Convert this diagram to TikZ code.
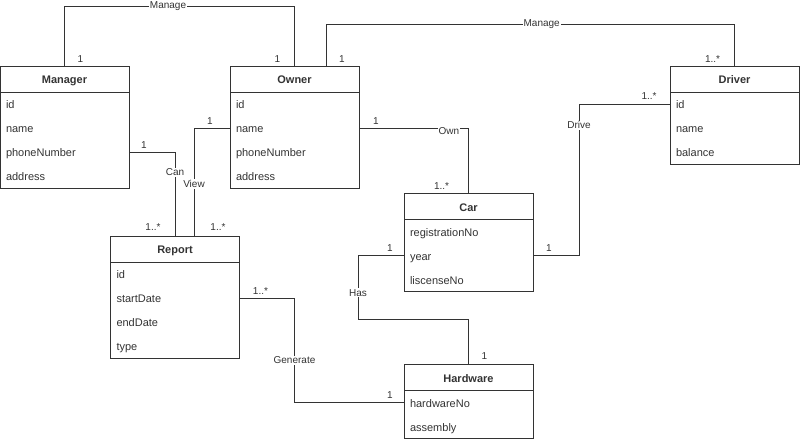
\documentclass[tikz,border=0pt]{standalone}
\usepackage{fontspec}
\setmainfont{Liberation Sans}
\usetikzlibrary{calc, positioning}
\definecolor{umlline}{HTML}{333333}

\begin{document}
\begin{tikzpicture}[x=1pt, y=-1pt, node distance=0pt, color=umlline,
  classhead/.style={draw=umlline, line width=0.8pt, outer sep=0pt, minimum width=129pt, minimum height=26pt, inner sep=0pt, font=\fontsize{11}{13}\selectfont\bfseries, text height=10.5pt, text depth=1.5pt},
  attr/.style={minimum width=129pt, text width=117pt, inner xsep=6pt, inner ysep=0pt, outer sep=0pt, minimum height=24pt, align=left, font=\fontsize{11}{13}\selectfont, text height=10.5pt, text depth=1.5pt},
  link/.style={draw=umlline, line width=0.8pt},
  lbl/.style={fill=white, inner sep=1pt, font=\fontsize{10}{12}\selectfont},
  mult/.style={inner sep=0pt, font=\fontsize{10}{12}\selectfont}]

		\useasboundingbox (0,0) rectangle (800,440);

		% class headers %
		\node[classhead] (manager) at (64.5,79) {Manager};
		\node[classhead] (owner) at (294.5,79) {Owner};
		\node[classhead] (driver) at (734.5,79) {Driver};
		\node[classhead] (car) at (468.5,206.5) {Car};
		\node[classhead] (report) at (175,249) {Report};
		\node[classhead] (hardware) at (468.5,377.5) {Hardware};

		% attributes %
		\node[attr, below=of manager] (manager-id) {id};
		\node[attr, below=of manager-id] (manager-name) {name};
		\node[attr, below=of manager-name] (manager-phone) {phoneNumber};
		\node[attr, below=of manager-phone] (manager-address) {address};

		\node[attr, below=of owner] (owner-id) {id};
		\node[attr, below=of owner-id] (owner-name) {name};
		\node[attr, below=of owner-name] (owner-phone) {phoneNumber};
		\node[attr, below=of owner-phone] (owner-address) {address};

		\node[attr, below=of driver] (driver-id) {id};
		\node[attr, below=of driver-id] (driver-name) {name};
		\node[attr, below=of driver-name] (driver-balance) {balance};

		\node[attr, below=of car] (car-reg) {registrationNo};
		\node[attr, below=of car-reg] (car-year) {year};
		\node[attr, below=of car-year] (car-lic) {liscenseNo};

		\node[attr, below=of report] (report-id) {id};
		\node[attr, below=of report-id] (report-start) {startDate};
		\node[attr, below=of report-start] (report-end) {endDate};
		\node[attr, below=of report-end] (report-type) {type};

		\node[attr, below=of hardware] (hardware-no) {hardwareNo};
		\node[attr, below=of hardware-no] (hardware-asm) {assembly};

		% class bodies %
		\draw[link] (manager-id.north west) rectangle (manager-address.south east);
		\draw[link] (owner-id.north west) rectangle (owner-address.south east);
		\draw[link] (driver-id.north west) rectangle (driver-balance.south east);
		\draw[link] (car-reg.north west) rectangle (car-lic.south east);
		\draw[link] (report-id.north west) rectangle (report-type.south east);
		\draw[link] (hardware-no.north west) rectangle (hardware-asm.south east);

		% free ends %
		\coordinate (owner-top) at ($(owner.north)+(31.5,0)$);
		\coordinate (report-view) at ($(report.north)+(19,0)$);

		% edges %
		\draw[link] (manager.north) -- ++(0,-60) -| node[lbl, pos=0.225] (lbl-manage-a) {Manage} (owner.north);
		\draw[link] (owner-top) -- ++(0,-42) -| node[lbl, pos=0.264] (lbl-manage-b) {Manage} (driver.north);
		\draw[link] (manager-phone.east) -| node[lbl, pos=0.62] (lbl-can) {Can} (report.north);
		\draw[link] (owner-name.west) -| node[lbl, pos=0.76] (lbl-view) {View} (report-view);
		\draw[link] (owner-name.east) -| node[lbl, pos=0.41, yshift=-3pt] (lbl-own) {Own} (car.north);
		\draw[link] (driver-id.west) -- ++(-91,0) |- node[lbl, pos=0.07] (lbl-drive) {Drive} (car-year.east);
		\draw[link] (car-year.west) -- ++(-46,0) -- node[lbl, pos=0.58] (lbl-has) {Has} ++(0,64) -| (hardware.north);
		\draw[link] (report-start.east) -- ++(55,0) |- node[lbl, pos=0.297] (lbl-gen) {Generate} (hardware-no.west);

		% multiplicities %
		\node[mult] (mul-mgr-manage) at ($(manager.north)+(16,-7)$) {1};
		\node[mult] (mul-own-manage) at ($(owner.north)+(-17,-7)$) {1};
		\node[mult] (mul-own-manage2) at ($(owner-top)+(16,-7)$) {1};
		\node[mult] (mul-drv-manage) at ($(driver.north)+(-22,-7)$) {1..*};
		\node[mult] (mul-mgr-can) at ($(manager-phone.east)+(15,-7)$) {1};
		\node[mult] (mul-rep-can) at ($(report.north)+(-22,-9)$) {1..*};
		\node[mult] (mul-own-view) at ($(owner-name.west)+(-20,-7)$) {1};
		\node[mult] (mul-rep-view) at ($(report.north)+(43,-9)$) {1..*};
		\node[mult] (mul-own-own) at ($(owner-name.east)+(17,-7)$) {1};
		\node[mult] (mul-car-own) at ($(car.north)+(-27,-7)$) {1..*};
		\node[mult] (mul-drv-drive) at ($(driver-id.west)+(-21,-8)$) {1..*};
		\node[mult] (mul-car-drive) at ($(car-year.east)+(16,-7)$) {1};
		\node[mult] (mul-car-has) at ($(car-year.west)+(-14,-7)$) {1};
		\node[mult] (mul-hw-has) at ($(hardware.north)+(16,-8)$) {1};
		\node[mult] (mul-rep-gen) at ($(report-start.east)+(21,-7)$) {1..*};
		\node[mult] (mul-hw-gen) at ($(hardware-no.west)+(-14,-7)$) {1};
\end{tikzpicture}
\end{document}
